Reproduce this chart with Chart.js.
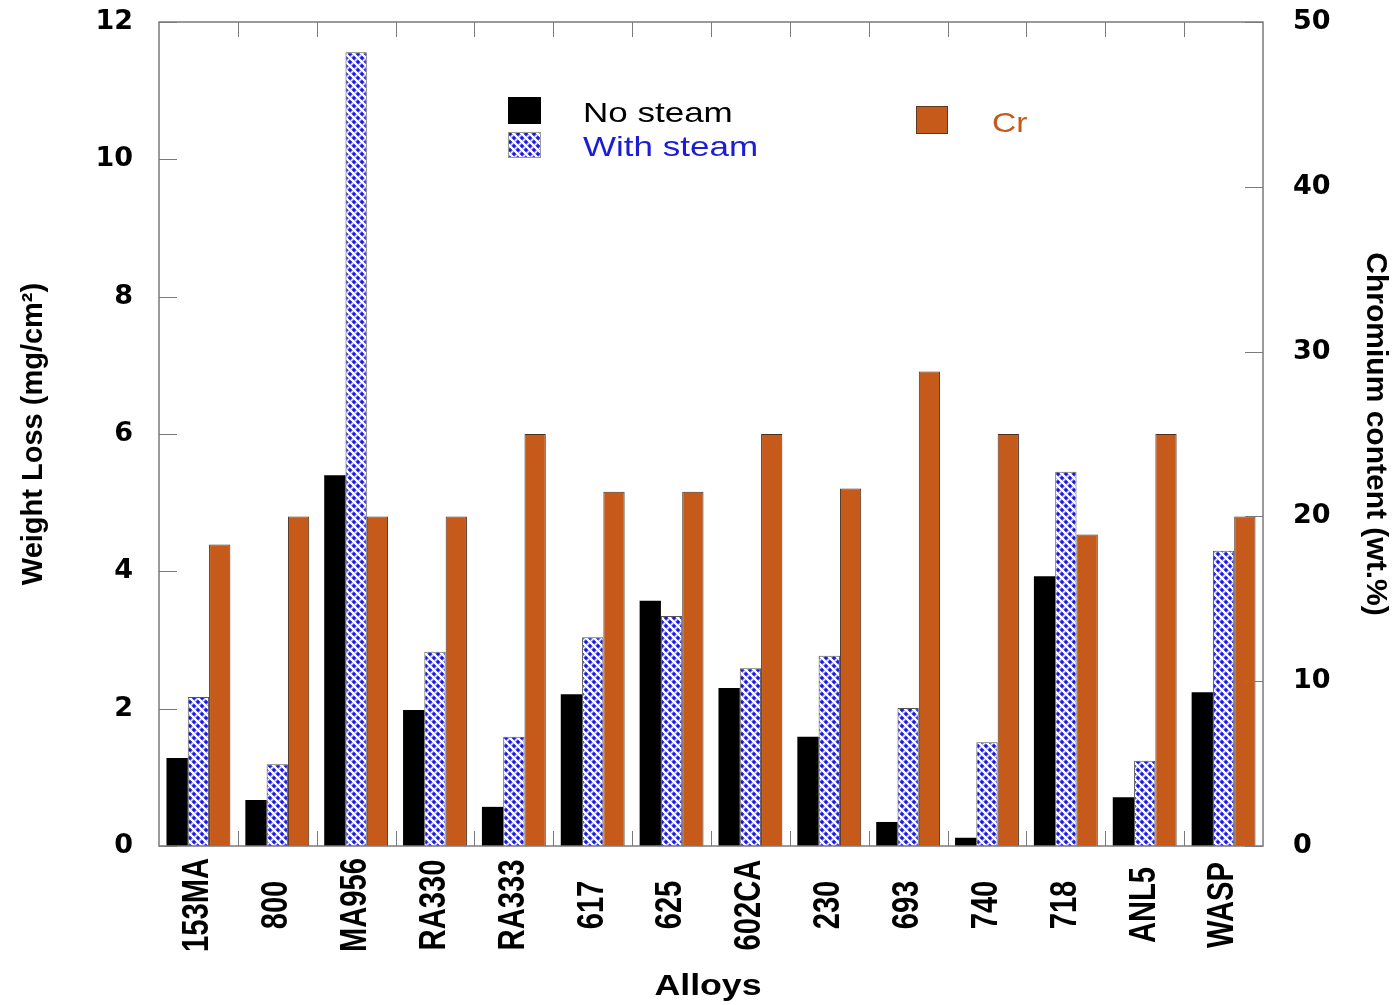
<!DOCTYPE html>
<html>
<head>
<meta charset="utf-8">
<title>Weight loss and chromium content of alloys</title>
<script src="https://cdn.jsdelivr.net/npm/chart.js@4.4.0/dist/chart.umd.min.js"></script>
<style>
    html, body { margin: 0; padding: 0; background: #fff; }
    #wrap { width: 1397px; height: 1005px; position: relative; }
</style>
</head>
<body>
<div id="wrap"><canvas id="alloyChart"></canvas></div>
<script>
// alloys tested
const alloys = ['153MA', '800', 'MA956', 'RA330', 'RA333', '617', '625', '602CA', '230', '693', '740', '718', 'ANL5', 'WASP'];

// weight loss, mg/cm2
const noSteam = [1.28, 0.67, 5.40, 1.98, 0.57, 2.21, 3.57, 2.30, 1.59, 0.35, 0.12, 3.93, 0.71, 2.24];
const withSteam = [2.17, 1.19, 11.56, 2.83, 1.59, 3.04, 3.35, 2.59, 2.77, 2.01, 1.51, 5.45, 1.24, 4.30];

// chromium content, wt.%
const chromium = [18.3, 20, 20, 20, 25, 21.5, 21.5, 25, 21.7, 28.8, 25, 18.9, 25, 20];

const weightTicks = [0, 2, 4, 6, 8, 10, 12];
const crTicks = [0, 10, 20, 30, 40, 50];

const ORANGE = '#c55a1a';
const BLUE_TEXT = '#1c1cd4';
const FRAME = '#7a7a7a';

// blue checkered fill used for the "with steam" bars
function checkerPattern() {
    const tile = document.createElement('canvas');
    tile.width = 8;
    tile.height = 8;
    const g = tile.getContext('2d');
    g.fillStyle = '#ffffff';
    g.fillRect(0, 0, 8, 8);
    const centers = [[2, 2], [6, 6], [-2, 6], [6, -2], [2, 10], [10, 2], [-2, -2], [10, 10]];
    for (let x = 0; x < 8; x++) {
        for (let y = 0; y < 8; y++) {
            let d = 99;
            centers.forEach(c => {
                d = Math.min(d, Math.abs(x + 0.5 - c[0]) + Math.abs(y + 0.5 - c[1]));
            });
            if (d <= 1.1) g.fillStyle = '#1a1ad6';
            else if (d <= 2.1) g.fillStyle = '#4848e0';
            else if (d <= 3.1 && (x + y) % 2 === 0) g.fillStyle = '#a4a4f2';
            else continue;
            g.fillRect(x, y, 1, 1);
        }
    }
    return g.createPattern(tile, 'repeat');
}
const checker = checkerPattern();

function stretchText(ctx, text, x, y, sx, font, color, align) {
    ctx.save();
    ctx.translate(x, y);
    ctx.scale(sx, 1);
    ctx.font = font;
    ctx.fillStyle = color;
    ctx.textAlign = align || 'left';
    ctx.textBaseline = 'alphabetic';
    ctx.fillText(text, 0, 0);
    ctx.restore();
}

const framePlugin = {
    id: 'frame',
    afterDatasetsDraw(chart) {
        const { ctx, chartArea: a, scales } = chart;
        ctx.save();
        ctx.strokeStyle = FRAME;
        ctx.lineWidth = 1.5;
        ctx.strokeRect(a.left, a.top, a.right - a.left, a.bottom - a.top);
        ctx.lineWidth = 1;
        ctx.beginPath();
        scales.y.ticks.forEach(t => {
            const py = Math.round(scales.y.getPixelForValue(t.value)) + 0.5;
            ctx.moveTo(a.left, py);
            ctx.lineTo(a.left + 18, py);
        });
        scales.y1.ticks.forEach(t => {
            const py = Math.round(scales.y1.getPixelForValue(t.value)) + 0.5;
            ctx.moveTo(a.right, py);
            ctx.lineTo(a.right - 18, py);
        });
        const half = (scales.x.getPixelForValue(1) - scales.x.getPixelForValue(0)) / 2;
        for (let i = 1; i < alloys.length; i++) {
            const px = Math.round(scales.x.getPixelForValue(i) - half) + 0.5;
            ctx.moveTo(px, a.top);
            ctx.lineTo(px, a.top + 15);
            ctx.moveTo(px, a.bottom);
            ctx.lineTo(px, a.bottom - 15);
        }
        ctx.stroke();
        ctx.restore();
    },
    afterDraw(chart) {
        const { ctx, chartArea: a, scales } = chart;
        const ds = chart.data.datasets;

        // category labels, rotated and centred below the axis
        alloys.forEach((name, i) => {
            ctx.save();
            ctx.translate(scales.x.getPixelForValue(i), 905);
            ctx.rotate(-Math.PI / 2);
            ctx.scale(0.81, 1);
            ctx.font = 'bold 36px "Liberation Sans", Arial, sans-serif';
            ctx.fillStyle = '#000';
            ctx.textAlign = 'center';
            ctx.textBaseline = 'middle';
            ctx.fillText(name, 0, 0);
            ctx.restore();
        });
        stretchText(ctx, 'Alloys', (a.left + a.right) / 2 - 3, 995, 1.19,
            'bold 30px "Liberation Sans", Arial, sans-serif', '#000', 'center');

        // legend
        const legendFont = '28px "Liberation Sans", Arial, sans-serif';
        ctx.save();
        ctx.fillStyle = '#000';
        ctx.fillRect(508, 97, 33, 27);
        ctx.fillStyle = checker;
        ctx.fillRect(508, 132, 33, 26);
        ctx.strokeStyle = '#9a9a9a';
        ctx.lineWidth = 1;
        ctx.strokeRect(508.5, 132.5, 32, 25);
        ctx.fillStyle = ORANGE;
        ctx.fillRect(916, 106, 32, 28);
        ctx.strokeStyle = '#5a3a22';
        ctx.strokeRect(916.5, 106.5, 31, 27);
        ctx.restore();
        stretchText(ctx, ds[0].label, 583, 122, 1.25, legendFont, '#000');
        stretchText(ctx, ds[1].label, 583, 156, 1.25, legendFont, BLUE_TEXT);
        stretchText(ctx, ds[2].label, 992, 132, 1.2, legendFont, ORANGE);
    }
};

function fixVertical(width) {
    return s => {
        s.width = width;
        s.paddingTop = 0;
        s.paddingBottom = 0;
    };
}

new Chart(document.getElementById('alloyChart'), {
    type: 'bar',
    data: {
        labels: alloys,
        datasets: [
            {
                label: 'No steam',
                data: noSteam,
                yAxisID: 'y',
                backgroundColor: '#000000',
                borderColor: '#000000',
                borderWidth: 0
            },
            {
                label: 'With steam',
                data: withSteam,
                yAxisID: 'y',
                backgroundColor: checker,
                borderColor: '#555555',
                borderWidth: 1
            },
            {
                label: 'Cr',
                data: chromium,
                yAxisID: 'y1',
                backgroundColor: ORANGE,
                borderColor: '#4a3020',
                borderWidth: 1
            }
        ]
    },
    options: {
        responsive: true,
        maintainAspectRatio: false,
        animation: false,
        layout: { padding: { top: 22, left: 0, right: 0, bottom: 0 } },
        datasets: {
            bar: { categoryPercentage: 0.81, barPercentage: 1.0 }
        },
        plugins: {
            legend: { display: false },
            tooltip: { enabled: false }
        },
        scales: {
            x: {
                position: 'bottom',
                grid: { display: false, drawTicks: false },
                border: { display: false },
                ticks: { display: false },
                afterFit: s => {
                    s.height = 159;
                    s.paddingLeft = 0;
                    s.paddingRight = 0;
                }
            },
            y: {
                position: 'left',
                min: 0,
                max: 12,
                afterBuildTicks: s => { s.ticks = weightTicks.map(v => ({ value: v })); },
                afterFit: fixVertical(159),
                grid: { display: false, drawTicks: false },
                border: { display: false },
                ticks: {
                    color: '#000',
                    padding: 26,
                    font: { family: 'DejaVu Sans', weight: 'bold', size: 27 }
                },
                title: {
                    display: true,
                    text: 'Weight Loss (mg/cm²)',
                    color: '#000',
                    font: { family: 'Liberation Sans', weight: 'bold', size: 29 },
                    padding: { top: 17 }
                }
            },
            y1: {
                position: 'right',
                min: 0,
                max: 50,
                afterBuildTicks: s => { s.ticks = crTicks.map(v => ({ value: v })); },
                afterFit: fixVertical(134),
                grid: { display: false, drawTicks: false },
                border: { display: false },
                ticks: {
                    color: '#000',
                    padding: 30,
                    font: { family: 'DejaVu Sans', weight: 'bold', size: 27 }
                },
                title: {
                    display: true,
                    text: 'Chromium content (wt.%)',
                    color: '#000',
                    font: { family: 'Liberation Sans', weight: 'bold', size: 30 },
                    padding: { top: 4 }
                }
            }
        }
    },
    plugins: [framePlugin]
});
</script>
</body>
</html>
